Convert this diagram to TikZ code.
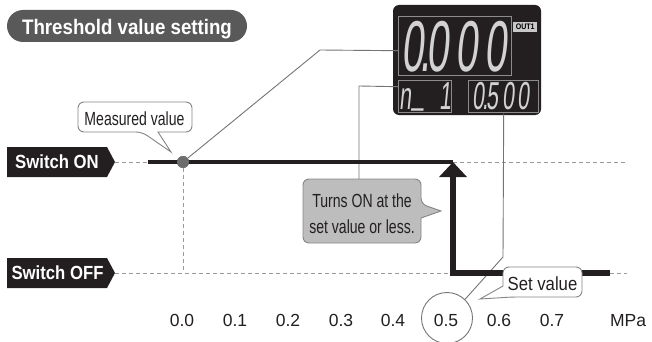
\documentclass[tikz,border=0pt]{standalone}
\usepackage{fontspec}
\setmainfont{Liberation Sans}
\newfontfamily\condN{Liberation Sans}[FakeStretch=0.74]
\newfontfamily\condS{Liberation Sans}[FakeStretch=0.88]
\newfontfamily\condT{Liberation Sans}[FakeStretch=0.89]
\newfontfamily\segfont{Liberation Sans}[FakeStretch=0.55,FakeSlant=0.1]
\usetikzlibrary{arrows.meta}
\definecolor{inkblack}{HTML}{231F20}
\definecolor{titlegray}{HTML}{595959}
\definecolor{gridgray}{HTML}{9A9A9A}
\definecolor{leadgray}{HTML}{747474}
\definecolor{cborder}{HTML}{858585}
\definecolor{callgray}{HTML}{BDBDBD}
\definecolor{dotgray}{HTML}{6D6D6D}
\definecolor{boxgray}{HTML}{8C8C8C}
\definecolor{seggray}{HTML}{D2D2D2}
\definecolor{lblgray}{HTML}{C8C8C8}
\begin{document}
\begin{tikzpicture}[x=1pt,y=-1pt,
  guide/.style={draw=gridgray, line width=1pt, dash pattern=on 4pt off 3pt},
  leader/.style={draw=leadgray, line width=0.9pt},
  callw/.style={draw=cborder, fill=white, line width=0.9pt},
  callg/.style={draw=cborder, fill=callgray, line width=0.9pt},
  segbox/.style={draw=boxgray, line width=1.4pt, inner sep=0pt, anchor=north west},
  calltext/.style={anchor=base, inner sep=0pt, text=inkblack, font=\condN\fontsize{19}{24}\selectfont},
  axislbl/.style={anchor=base, inner sep=0pt, text=inkblack, font=\fontsize{17.5}{20}\selectfont},
  swlbl/.style={anchor=base, inner sep=0pt, text=white, font=\condS\bfseries\fontsize{19}{22}\selectfont},
  segtext/.style={anchor=base west, inner sep=0pt, text=seggray},
  ghost/.style={inner sep=0pt, anchor=north west}
]
\useasboundingbox (0,0) rectangle (652,342);

% title
\fill[titlegray, rounded corners=16pt] (7,10) rectangle (247,42);
\node[anchor=base, inner sep=0pt, text=white, font=\condT\bfseries\fontsize{21}{24}\selectfont] (title) at (127,35) {Threshold value setting};

% display unit
\fill[inkblack, rounded corners=6pt] (393,5) rectangle (541,115);
\node[segbox, minimum width=113pt, minimum height=59pt] (mainbox) at (398,16) {};
\node[segbox, minimum width=53pt, minimum height=32pt] (modebox) at (398,80) {};
\node[segbox, minimum width=70pt, minimum height=32pt] (setbox) at (468,80) {};
\node[fill=lblgray, minimum width=24pt, minimum height=10pt, inner sep=0pt, anchor=north west,
      font=\condS\bfseries\fontsize{8}{8}\selectfont] (outlbl) at (513,22) {OUT1};
\node[segtext, font=\segfont\fontsize{72}{72}\selectfont] (mainval) at (401,72)
  {0\kern-4pt.\kern-4pt0\kern7pt0\kern7pt0};
\node[segtext, font=\segfont\fontsize{39}{39}\selectfont] (modeval) at (399,110)
  {n\kern1pt\raisebox{6pt}{\_}\kern15pt1};
\node[segtext, font=\segfont\fontsize{39}{39}\selectfont] (setval) at (472,110)
  {0\kern-2pt.\kern-2pt5\kern4pt0\kern4pt0};

% key coordinates
\coordinate (onTip) at (115,162);
\coordinate (offTip) at (115,273);
\coordinate (onStart) at (148,162);
\coordinate (sw) at (453,162);
\coordinate (swOff) at (453,273);
\coordinate (arrFoot) at (453,276.3);
\coordinate (offStart) at (450.3,273);
\coordinate (offEnd) at (610,273);
\coordinate (onR) at (627,162);
\coordinate (offR) at (627,273);
\coordinate (measOff) at (183,273);
\coordinate (bend1) at (320,50);
\coordinate (bend2) at (359,86);
\coordinate (bend3) at (503,257);

% switch labels
\fill[inkblack] (7,147) -- (107,147) -- (onTip) -- (107,177) -- (7,177) -- cycle;
\node[swlbl] (sonTxt) at (57,168.5) {Switch ON};
\fill[inkblack] (7,258) -- (107,258) -- (offTip) -- (107,288) -- (7,288) -- cycle;
\node[swlbl] (soffTxt) at (57.5,279.5) {Switch OFF};

% dashed guides
\node[circle, fill=dotgray, minimum size=12pt, inner sep=0pt] (meas) at (183,162) {};
\draw[guide] (onTip) -- (onStart);
\draw[guide] (sw) -- (onR);
\draw[guide] (offTip) -- (swOff);
\draw[guide] (offEnd) -- (offR);
\draw[guide] (meas) -- (measOff);

% axis labels
\node[draw=leadgray, line width=0.9pt, circle, minimum size=51pt, inner sep=0pt] (c05) at (447,318) {};
\node[axislbl] (t00) at (182,326.7) {0.0};
\node[axislbl] (t01) at (235,326.7) {0.1};
\node[axislbl] (t02) at (288,326.7) {0.2};
\node[axislbl] (t03) at (341,326.7) {0.3};
\node[axislbl] (t04) at (393,326.7) {0.4};
\node[axislbl] (t05) at (446,326.7) {0.5};
\node[axislbl] (t06) at (499,326.7) {0.6};
\node[axislbl] (t07) at (552,326.7) {0.7};
\node[axislbl] (tmpa) at (628,326.7) {MPa};

% callout frames (ghost nodes)
\node[ghost, minimum width=118pt, minimum height=64pt] (turns) at (303,179) {};

% leaders
\draw[leader] (meas) -- (bend1) -- ([yshift=-4.5pt]mainbox.west);
\draw[leader] ([yshift=10pt]modebox.west) -- (bend2) -- (bend2 |- turns.north);
\draw[leader] (setbox.south) -- (bend3) -- (c05.46);

% thick switching lines
\draw[inkblack, line width=4pt] (onStart) -- (sw);
\draw[inkblack, line width=6.7pt] (offStart) -- (offEnd);
\draw[inkblack, line width=5.3pt, -{Triangle[width=27pt,length=15pt]}] (arrFoot) -- (sw);
\node[circle, fill=dotgray, minimum size=12pt, inner sep=0pt] at (meas) {};

% callouts
\draw[callw] (142,132) -- (171,152) -- (158,132) [rounded corners=6pt] -- (192,132) -- (192,102) -- (78,102) -- (78,132) -- cycle;
\node[calltext] (measTxt) at (134.5,125.7) {Measured value};

\draw[callg] (421,204) -- (441,211) -- (421,218) [rounded corners=6pt] -- (421,243) -- (303,243) -- (303,179) -- (421,179) -- cycle;
\node[calltext] (turnsA) at (362,207) {Turns ON at the};
\node[calltext] (turnsB) at (362,233) {set value or less.};

\draw[callw] (512,297) -- (480,299) -- (503,286) [rounded corners=6pt] -- (503,267) -- (582,267) -- (582,297) -- cycle;
\node[calltext, font=\condS\fontsize{19}{24}\selectfont] (setTxt) at (542.5,290) {Set value};
\end{tikzpicture}
\end{document}
